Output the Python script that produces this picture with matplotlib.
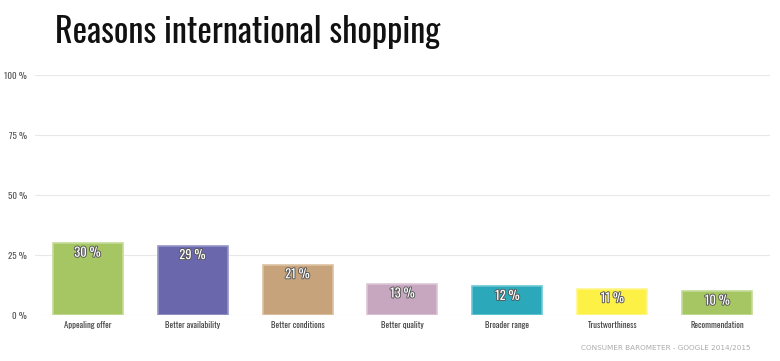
import matplotlib.pyplot as plt
import matplotlib.patheffects as pe
import numpy as np

categories = ['Appealing offer', 'Better availability', 'Better conditions',
              'Better quality', 'Broader range', 'Trustworthiness', 'Recommendation']
values = [30, 29, 21, 13, 12, 11, 10]
colors = ['#a5c663', '#6b67ad', '#c6a37a', '#c7a7bf', '#2ba8b9', '#fef146', '#a5c663']
edges = ['#c4dc96', '#9894c9', '#dcc2a3', '#dcc6d6', '#6cc8d4', '#fff68a', '#c4dc96']
yticks = [0, 25, 50, 75, 100]

plt.rcParams['font.family'] = ['Oswald', 'Barlow Condensed', 'DejaVu Sans']

fig = plt.figure(figsize=(7.8, 3.61), dpi=100)
ax = fig.add_axes([0.045, 0.127, 0.942, 0.665])

x = np.arange(len(categories))
ax.bar(x, values, width=0.667, color=colors, edgecolor=edges, linewidth=1.2, zorder=2)

for xi, v in zip(x, values):
    ax.text(xi, v - 1.5, f'{v} %', ha='center', va='top', color='white', fontsize=9,
            fontweight='light',
            path_effects=[pe.withStroke(linewidth=1.3, foreground='#555555')], zorder=3)

ax.set_xlim(-0.5, 6.5)
ax.set_ylim(0, 100)
ax.set_yticks(yticks)
ax.set_yticklabels([f'{t} %' for t in yticks], fontsize=6.5, color='#555555',
                   fontweight='light')
ax.set_xticks(x)
ax.set_xticklabels(categories, fontsize=6.2, color='#444444')
ax.tick_params(length=0, pad=4)
ax.tick_params(axis='y', pad=6)
ax.yaxis.grid(True, color='#e8e8e8', linewidth=0.8, zorder=0)
for s in ax.spines.values():
    s.set_visible(False)

fig.text(0.07, 0.91, 'Reasons international shopping', fontsize=24.6, color='#111111',
         va='center', ha='left')
fig.text(0.962, 0.035, 'CONSUMER BAROMETER - GOOGLE 2014/2015', fontsize=5.2,
         color='#aaaaaa', ha='right', va='center', family='DejaVu Sans')

fig.savefig('out.png', dpi=100)
